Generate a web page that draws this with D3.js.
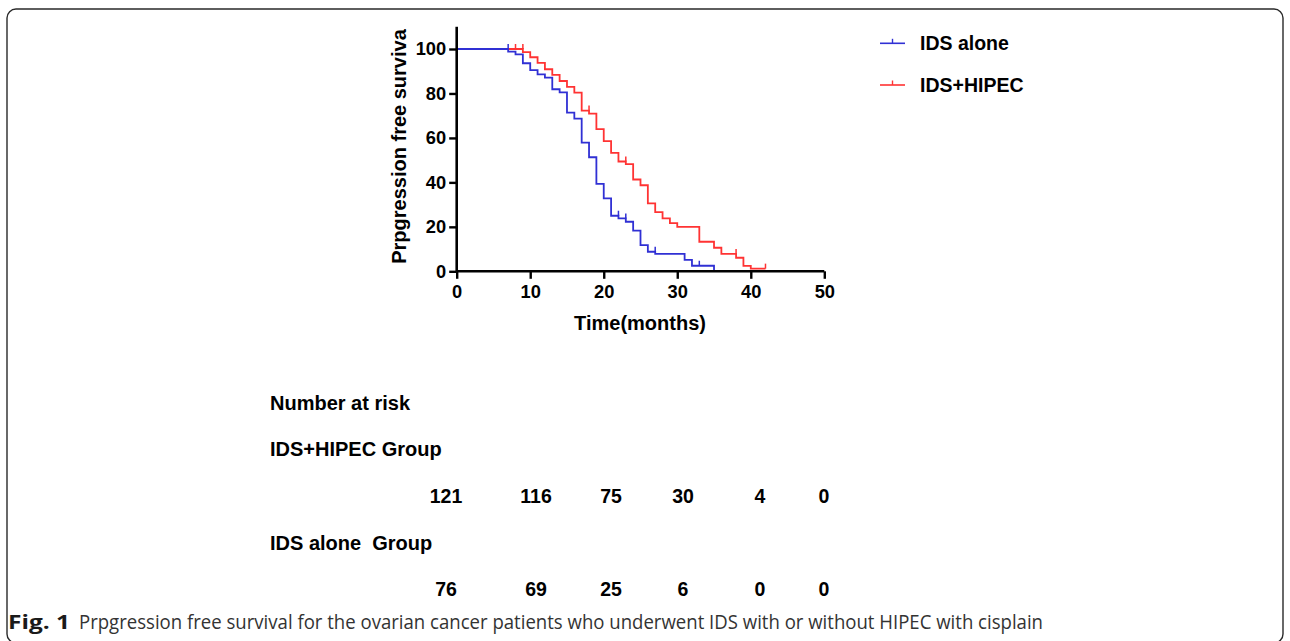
<!DOCTYPE html>
<html>
<head>
<meta charset="utf-8">
<script src="https://cdn.jsdelivr.net/npm/d3@7"></script>
<style>
  body { margin: 0; background: #fff; }
  svg { display: block; }
  .bold { font-family: "Liberation Sans", Arial, sans-serif; font-weight: bold; fill: #000; }
</style>
</head>
<body>
<svg id="chart" width="1290" height="641"></svg>
<script>
// Kaplan-Meier steps: time of each drop, and survival (%) after it
var aloneTimes = [7, 8, 9, 10, 11, 12, 13, 14, 15, 16, 17, 18, 19, 20, 21, 22, 23, 24, 25, 26, 27, 31, 32, 35];
var aloneSurv  = [98.8, 97.6, 93.6, 90.5, 88.6, 87.1, 81.9, 80.5, 71.4, 68.7, 57.9, 51.3, 39.3, 32.8, 25.0, 23.8, 22.3, 18.3, 11.8, 8.8, 7.8, 5.1, 2.5, 0];
var aloneEnd = 35;
var aloneCensor = [7, 22, 23, 27, 33];

var hipecTimes = [9, 10, 11, 12, 13, 14, 15, 16, 17, 18, 19, 20, 21, 22, 23, 24, 25, 26, 27, 28, 29, 30, 33, 35, 36, 38, 39, 40];
var hipecSurv  = [98.6, 96.3, 93.8, 90.9, 88.4, 85.6, 83.0, 80.4, 72.3, 70.9, 64.0, 58.6, 53.3, 49.4, 48.2, 41.3, 38.7, 30.6, 26.6, 23.8, 21.7, 20.0, 13.3, 10.6, 7.8, 6.1, 2.4, 1.2];
var hipecEnd = 42;
var hipecCensor = [8, 9, 18, 23, 38, 42];

var xTicks = [0, 10, 20, 30, 40, 50];
var yTicks = [0, 20, 40, 60, 80, 100];

var legendNames = ["IDS alone", "IDS+HIPEC"];
var colors = ["#3030d4", "#ff3333"];

// number at risk table
var riskTimes = [0, 10, 20, 30, 40, 50];
var riskHipec = [121, 116, 75, 30, 4, 0];
var riskAlone = [76, 69, 25, 6, 0, 0];

var caption = "Prpgression free survival for the ovarian cancer patients who underwent IDS with or without HIPEC with cisplain";

var svg = d3.select("#chart");

// frame
svg.append("rect")
  .attr("x", 7).attr("y", 9)
  .attr("width", 1276).attr("height", 634)
  .attr("rx", 9).attr("ry", 9)
  .attr("fill", "none")
  .attr("stroke", "#2a2a2a")
  .attr("stroke-width", 1.4);

var margin = {left: 456.7, top: 26, bottom: 271.3, right: 824.3};

var x = d3.scaleLinear().domain([0, 50]).range([margin.left, margin.right]);
var y = d3.scaleLinear().domain([0, 110]).range([margin.bottom, margin.bottom - 110 * 2.223]);

// survival value just before time t
var valueBefore = function(times, surv, t) {
  var v = 100;
  for (var i = 0; i < times.length; i++) {
    if (times[i] < t) v = surv[i];
  }
  return v;
};

var buildSteps = function(times, surv, end) {
  var pts = [[0, 100]];
  for (var i = 0; i < times.length; i++) pts.push([times[i], surv[i]]);
  if (times[times.length - 1] < end) pts.push([end, surv[surv.length - 1]]);
  return pts;
};

var line = d3.line()
  .x(function(d) { return x(d[0]); })
  .y(function(d) { return y(d[1]); })
  .curve(d3.curveStepAfter);

var series = [
  {times: aloneTimes, surv: aloneSurv, end: aloneEnd, censor: aloneCensor, color: colors[0]},
  {times: hipecTimes, surv: hipecSurv, end: hipecEnd, censor: hipecCensor, color: colors[1]}
];

// red first so blue sits on top on the shared 100% segment
series.slice().reverse().forEach(function(s) {
  svg.append("path")
    .datum(buildSteps(s.times, s.surv, s.end))
    .attr("d", line)
    .attr("fill", "none")
    .attr("stroke", s.color)
    .attr("stroke-width", 1.8);

  svg.selectAll(null)
    .data(s.censor)
    .enter()
    .append("line")
    .attr("x1", function(t) { return x(t); })
    .attr("x2", function(t) { return x(t); })
    .attr("y1", function(t) { return y(valueBefore(s.times, s.surv, t)); })
    .attr("y2", function(t) { return y(valueBefore(s.times, s.surv, t)) - 5; })
    .attr("stroke", s.color)
    .attr("stroke-width", 1.5);
});

// axes
var xAxis = svg.append("g")
  .attr("transform", "translate(0," + margin.bottom + ")")
  .call(d3.axisBottom(x).tickValues(xTicks).tickSize(7.5).tickPadding(6).tickSizeOuter(0));

var yAxis = svg.append("g")
  .attr("transform", "translate(" + margin.left + ",0)")
  .call(d3.axisLeft(y).tickValues(yTicks).tickSize(7.5).tickPadding(3).tickSizeOuter(0));

[xAxis, yAxis].forEach(function(g) {
  g.select(".domain").attr("stroke", "#000").attr("stroke-width", 2.6);
  g.selectAll(".tick line").attr("stroke", "#000").attr("stroke-width", 2.4);
  g.selectAll(".tick text")
    .attr("class", "bold")
    .attr("font-size", 18.3);
});
yAxis.select(".domain").attr("d", "M0," + y(110) + "V" + margin.bottom);
xAxis.select(".domain").attr("d", "M" + margin.left + ",0H" + margin.right);

svg.append("text")
  .attr("class", "bold")
  .attr("x", 640).attr("y", 330)
  .attr("text-anchor", "middle")
  .attr("font-size", 20)
  .text("Time(months)");

svg.append("text")
  .attr("class", "bold")
  .attr("transform", "translate(406,146.5) rotate(-90)")
  .attr("text-anchor", "middle")
  .attr("font-size", 20)
  .text("Prpgression free surviva");

// legend
var legend = svg.selectAll(".legend")
  .data(legendNames)
  .enter()
  .append("g")
  .attr("transform", function(d, i) { return "translate(880," + (43.3 + i * 41.7) + ")"; });

legend.append("line")
  .attr("x1", 0).attr("x2", 25).attr("y1", 0).attr("y2", 0)
  .attr("stroke", function(d, i) { return colors[i]; })
  .attr("stroke-width", 1.6);
legend.append("line")
  .attr("x1", 12.5).attr("x2", 12.5).attr("y1", 0).attr("y2", -4.5)
  .attr("stroke", function(d, i) { return colors[i]; })
  .attr("stroke-width", 1.4);
legend.append("text")
  .attr("class", "bold")
  .attr("x", 40).attr("y", 6.5)
  .attr("font-size", 19.5)
  .text(function(d) { return d; });

// number at risk
var riskX = d3.scaleOrdinal().domain(riskTimes).range([446, 536, 611, 683, 760, 824]);

var riskLabels = [
  {t: "Number at risk", y: 409.5},
  {t: "IDS+HIPEC Group", y: 456},
  {t: "IDS alone\u00a0 Group", y: 549.5}
];
svg.selectAll(null)
  .data(riskLabels)
  .enter()
  .append("text")
  .attr("class", "bold")
  .attr("x", 270)
  .attr("y", function(d) { return d.y; })
  .attr("font-size", 20)
  .text(function(d) { return d.t; });

var riskRows = [{vals: riskHipec, y: 502.5}, {vals: riskAlone, y: 596}];
riskRows.forEach(function(row) {
  svg.selectAll(null)
    .data(row.vals)
    .enter()
    .append("text")
    .attr("class", "bold")
    .attr("x", function(d, i) { return riskX(riskTimes[i]); })
    .attr("y", row.y)
    .attr("text-anchor", "middle")
    .attr("font-size", 19.5)
    .text(function(d) { return d; });
});

// caption
svg.append("text")
  .attr("x", 8).attr("y", 629)
  .style("font-family", "'Open Sans', sans-serif")
  .style("font-weight", "bold")
  .attr("font-size", 20)
  .attr("fill", "#1a1a1a")
  .attr("textLength", 62)
  .attr("lengthAdjust", "spacingAndGlyphs")
  .text("Fig. 1");
svg.append("text")
  .attr("x", 79).attr("y", 629)
  .style("font-family", "'Open Sans', sans-serif")
  .style("font-weight", "normal")
  .attr("font-size", 19.5)
  .attr("fill", "#333")
  .attr("textLength", 964)
  .attr("lengthAdjust", "spacingAndGlyphs")
  .text(caption);
</script>
</body>
</html>
